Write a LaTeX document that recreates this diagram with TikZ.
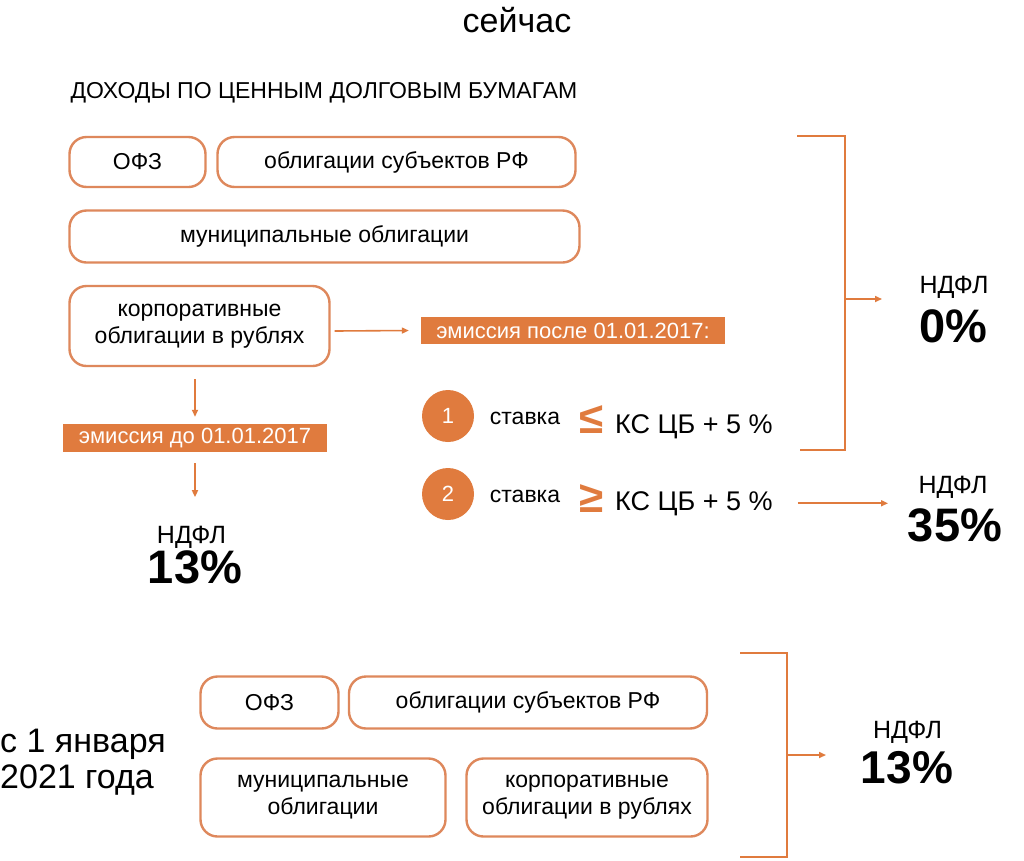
\documentclass[tikz,border=0pt]{standalone}
\usepackage{fontspec}
\setmainfont{Liberation Sans}
\usetikzlibrary{arrows.meta}

\definecolor{ndflorange}{RGB}{224,123,62}
\definecolor{boxline}{RGB}{222,136,92}
\newcommand{\boxfont}{\fontsize{23}{27}\selectfont}
\newcommand{\labelfont}{\fontsize{22}{22}\selectfont}
\newcommand{\taxfont}{\fontsize{25}{25}\selectfont}
\newcommand{\ratefont}{\fontsize{47}{47}\selectfont\bfseries}
\newcommand{\kcfont}{\fontsize{27}{27}\selectfont}
\newcommand{\signfont}{\fontsize{44}{44}\selectfont\bfseries}

\begin{document}
\begin{tikzpicture}[x=1pt,y=-1pt,
	bond/.style={draw=boxline,line width=2.4pt,rounded corners=17pt,
		inner sep=0pt,align=center,font=\boxfont},
	emission/.style={fill=ndflorange,text=white,inner sep=0pt,font=\labelfont},
	flow/.style={draw=ndflorange,line width=1.6pt,
		-{Triangle[length=7pt,width=6pt]}},
	bracket/.style={draw=ndflorange,line width=2.4pt},
	num/.style={circle,fill=ndflorange,text=white,minimum size=52pt,
		inner sep=0pt,font=\labelfont}]
		\fill[white] (0,0) rectangle (1024,860);
		\useasboundingbox (0,0) rectangle (1024,860);
		% сейчас
		\node[font=\fontsize{34}{34}\selectfont] (nowTitle) at (517,20) {сейчас};
		\node[anchor=base west,font=\fontsize{23}{23}\selectfont] (debtHead)
		at (67,98) {ДОХОДЫ ПО ЦЕННЫМ ДОЛГОВЫМ БУМАГАМ};
		\node[bond,minimum width=136pt,minimum height=50pt] (ofzA) at (137.5,162) {ОФЗ};
		\node[bond,minimum width=358pt,minimum height=50pt] (subjA) at (396.5,162)
		{облигации субъектов РФ};
		\node[bond,minimum width=510pt,minimum height=52pt] (muniA) at (324.5,236.5)
		{муниципальные облигации};
		\node[bond,minimum width=260pt,minimum height=80pt] (corpA) at (199.5,326)
		{корпоративные\\облигации в рублях};
		\node[emission,minimum width=304pt,minimum height=27pt] (afterLbl) at (573,330.5)
		{эмиссия после 01.01.2017:};
		\node[emission,minimum width=264pt,minimum height=28pt] (beforeLbl) at (195,438)
		{эмиссия до 01.01.2017};
		\node[anchor=base,font=\taxfont] (taxA) at (191.5,543) {НДФЛ};
		\node[anchor=base,font=\ratefont] (rateA) at (195,583) {13\%};
		\draw[flow] ([xshift=4pt,yshift=-5pt]corpA.east) -- ([xshift=-12pt]afterLbl.west);
		\draw[flow] ([yshift=-12pt]beforeLbl.north |- corpA.south)
		-- ([yshift=7pt]beforeLbl.north);
		\draw[flow] ([yshift=-11pt]beforeLbl.south)
		-- ([yshift=25pt]beforeLbl.south |- taxA.north);
		% ставка
		\node[num] (oneC) at (448,416) {1};
		\node[num] (twoC) at (448,494) {2};
		\node[anchor=base,font=\boxfont] (rateOne) at (525,424) {ставка};
		\node[anchor=base,font=\boxfont] (rateTwo) at (525,502) {ставка};
		\node[anchor=base,font=\signfont,text=ndflorange] (leOne) at (592,433) {≤};
		\node[anchor=base,font=\signfont,text=ndflorange] (geTwo) at (592,512) {≥};
		\node[anchor=base west,font=\kcfont,inner sep=0pt] (kcOne) at (615,433) {КС ЦБ + 5 \%};
		\node[anchor=base west,font=\kcfont,inner sep=0pt] (kcTwo) at (615,510) {КС ЦБ + 5 \%};
		% 0% / 35%
		\coordinate (brTopA) at (797,136);
		\coordinate (brCornA) at (845,450);
		\coordinate (brBotA) at (800,450);
		\coordinate (brMidA) at (845,299);
		\coordinate (brOutA) at (882,299);
		\coordinate (outThree) at (888,502);
		\draw[bracket] (brTopA) -| (brCornA) -- (brBotA);
		\draw[flow] (brMidA) -- (brOutA);
		\node[anchor=base,font=\taxfont] (taxZero) at (954,293) {НДФЛ};
		\node[anchor=base,font=\ratefont] (rateZero) at (953,342) {0\%};
		\node[anchor=base,font=\taxfont] (taxThree) at (953,493) {НДФЛ};
		\node[anchor=base,font=\ratefont] (rateThree) at (955,541) {35\%};
		\draw[flow] ([xshift=25pt]kcTwo.east) -- (outThree |- kcTwo.east);
		% с 1 января 2021 года
		\node[anchor=base west,font=\fontsize{34}{34}\selectfont,inner sep=0pt]
		(yearOne) at (0,752) {с 1 января};
		\node[anchor=base west,font=\fontsize{34}{34}\selectfont,inner sep=0pt]
		(yearTwo) at (0,788) {2021 года};
		\node[bond,minimum width=138pt,minimum height=52pt] (ofzB) at (269.5,702.5) {ОФЗ};
		\node[bond,minimum width=358pt,minimum height=52pt] (subjB) at (528,702.5)
		{облигации субъектов РФ};
		\node[bond,minimum width=245pt,minimum height=78pt] (muniB) at (323,797.5)
		{муниципальные\\облигации};
		\node[bond,minimum width=241pt,minimum height=78pt] (corpB) at (587,797.5)
		{корпоративные\\облигации в рублях};
		\coordinate (brTopB) at (740,653);
		\coordinate (brCornB) at (787,857);
		\coordinate (brBotB) at (740,857);
		\coordinate (brMidB) at (787,755);
		\coordinate (brOutB) at (826,755);
		\draw[bracket] (brTopB) -| (brCornB) -- (brBotB);
		\draw[flow] (brMidB) -- (brOutB);
		\node[anchor=base,font=\fontsize{25}{25}\selectfont] (taxB) at (907.5,738) {НДФЛ};
		\node[anchor=base,font=\fontsize{46}{46}\selectfont\bfseries] (rateB) at (907,783) {13\%};
	\end{tikzpicture}
\end{document}
